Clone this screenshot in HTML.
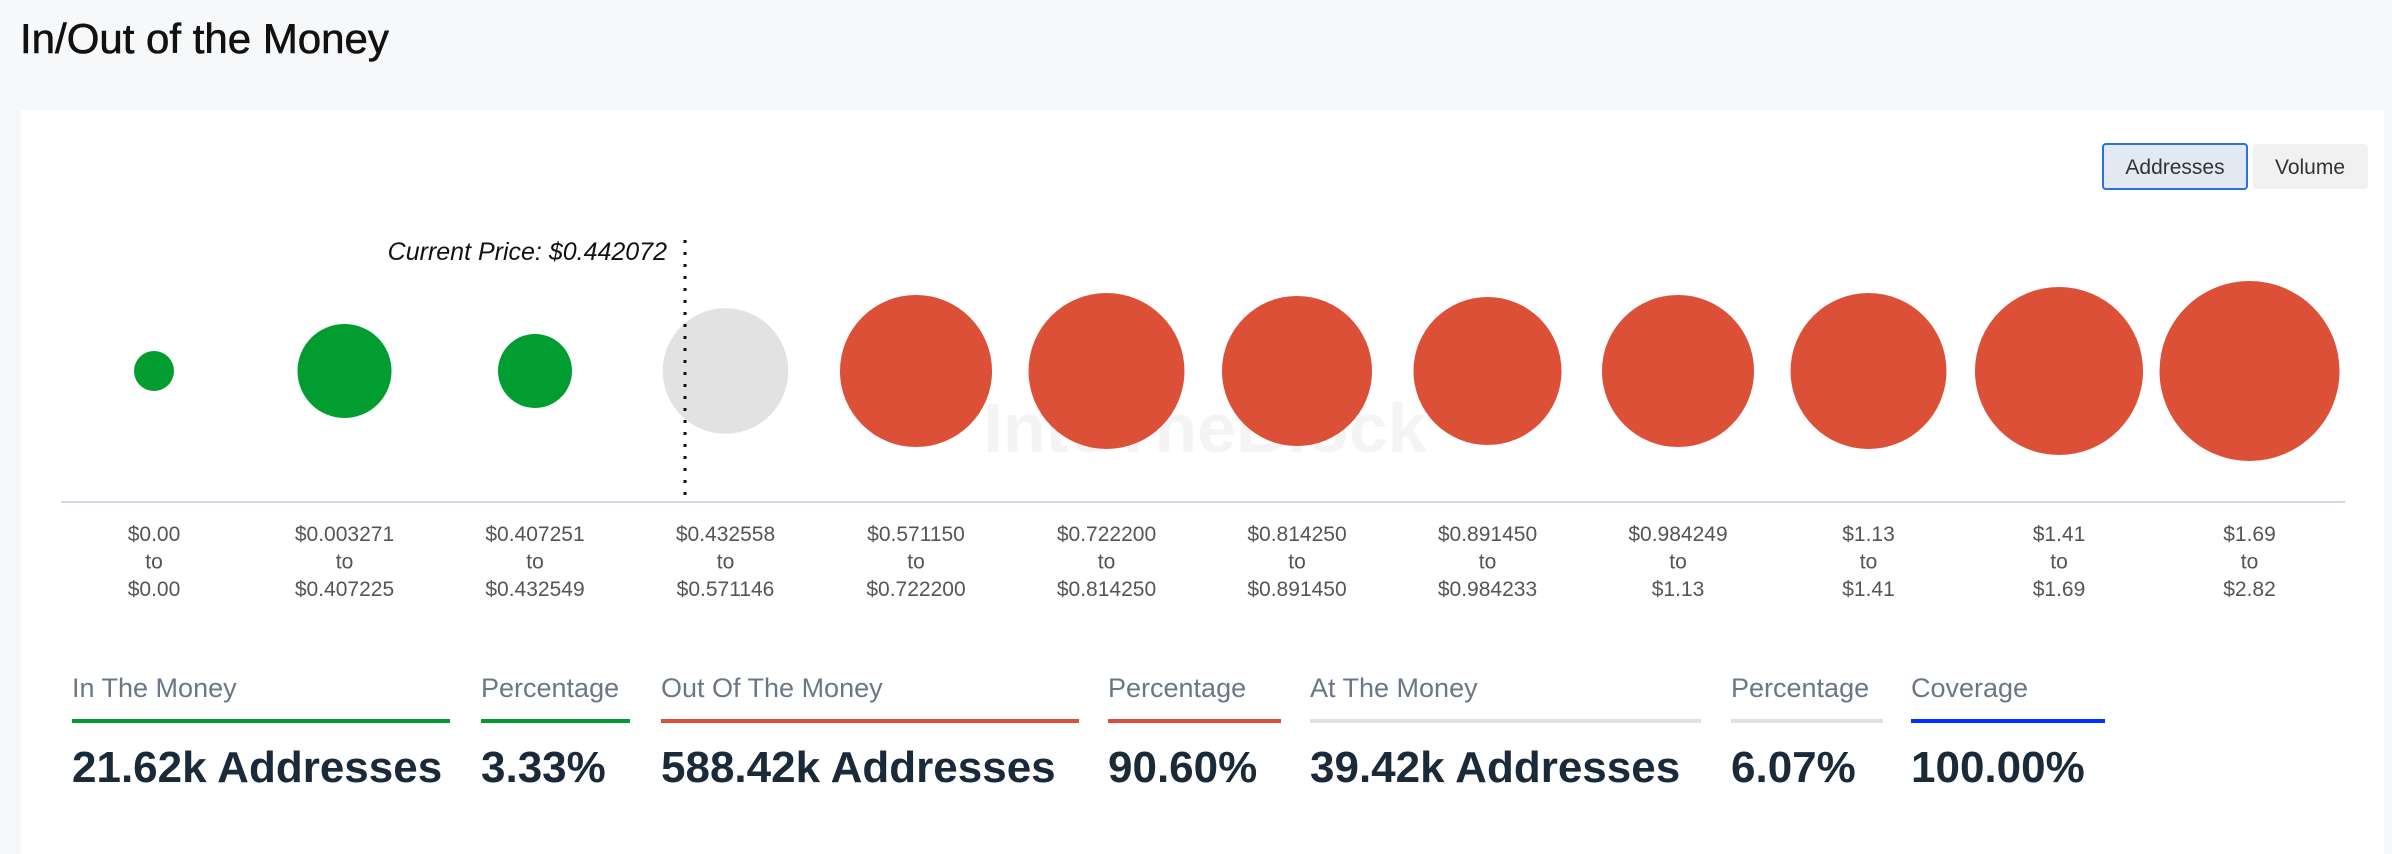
<!DOCTYPE html>
<html><head><meta charset="utf-8">
<style>
html,body{margin:0;padding:0;width:2392px;height:854px;overflow:hidden;background:#f7f8fa;font-family:"Liberation Sans",sans-serif;}
svg{position:absolute;left:0;top:0;}
</style></head>
<body>
<svg id="chart" width="2392" height="854" viewBox="0 0 2392 854">
  <text x="20" y="53" font-size="42" fill="#111" stroke="#111" stroke-width="0.6">In/Out of the Money</text>
  <rect x="21" y="110" width="2363" height="760" fill="#fff"/>
  <text x="1205" y="452" font-size="70" font-weight="bold" fill="#f4f4f4" text-anchor="middle">IntoTheBlock</text>
  <g>
    <rect x="2103" y="144" width="144" height="45" rx="3" fill="#e3e9f3" stroke="#2f6fe0" stroke-width="2"/>
    <text x="2175" y="174" font-size="21" fill="#333" text-anchor="middle">Addresses</text>
  </g>
  <g>
    <rect x="2253" y="144" width="115" height="45" rx="3" fill="#f1f1f2"/>
    <text x="2310" y="174" font-size="21" fill="#333" text-anchor="middle">Volume</text>
  </g>
  <line x1="61" y1="502" x2="2345" y2="502" stroke="#ccd6e6" stroke-width="2"/>
  <g id="bubbles"></g>
  <g id="labels"></g>
  <g id="stats"></g>
</svg>
<script>
const rangeFrom = ["$0.00","$0.003271","$0.407251","$0.432558","$0.571150","$0.722200","$0.814250","$0.891450","$0.984249","$1.13","$1.41","$1.69"];
const rangeTo = ["$0.00","$0.407225","$0.432549","$0.571146","$0.722200","$0.814250","$0.891450","$0.984233","$1.13","$1.41","$1.69","$2.82"];
const addressesK = [4.0, 22.1, 13.7, 39.4, 57.8, 60.8, 56.3, 54.8, 57.8, 60.8, 70.6, 81.0];
const status = ["in","in","in","at","out","out","out","out","out","out","out","out"];
const currentPrice = 0.442072;
const statLabels = ["In The Money","Percentage","Out Of The Money","Percentage","At The Money","Percentage","Coverage"];
const statValues = ["21.62k Addresses","3.33%","588.42k Addresses","90.60%","39.42k Addresses","6.07%","100.00%"];

const NS="http://www.w3.org/2000/svg";
const colors={in:"#029d31",out:"#dd5038",at:"#e2e2e2"};
const x0=154, step=190.5, cy=371, rMax=90;
const xPos=i=>x0+i*step;
const vMax=Math.max(...addressesK);
const rScale=v=>rMax*Math.sqrt(v/vMax);
function mk(tag,attrs,parent){const e=document.createElementNS(NS,tag);for(const k in attrs)e.setAttribute(k,attrs[k]);parent.appendChild(e);return e;}
const bg=document.getElementById('bubbles'), lg=document.getElementById('labels'), sg=document.getElementById('stats');
addressesK.forEach((v,i)=>{
  const c=mk('circle',{cx:xPos(i),cy:cy,r:rScale(v),fill:colors[status[i]]},bg);
  
  
  const t=mk('text',{x:xPos(i),'font-size':21,fill:'#555','text-anchor':'middle'},lg);
  
  
  [rangeFrom[i],'to',rangeTo[i]].forEach((s,j)=>{const ts=mk('tspan',{x:xPos(i),y:541+j*27.5},t);ts.textContent=s;});
});
const lineX=685;
const cl=mk('line',{x1:lineX,y1:240,x2:lineX,y2:502,stroke:'#111','stroke-width':3,'stroke-dasharray':'3,9'},bg);


const ct=mk('text',{x:lineX-18,y:260,'font-size':25,'font-style':'italic',fill:'#111','text-anchor':'end'},bg);
ct.textContent='Current Price: $'+currentPrice;


const cols=[[72,450],[481,630],[661,1079],[1108,1281],[1310,1701],[1731,1883],[1911,2105]];
const barColors=["#029d31","#029d31","#dd5038","#dd5038","#dfe0e0","#dfe0e0","#0033ff"];
statLabels.forEach((s,i)=>{
  const l=mk('text',{x:cols[i][0],y:697,'font-size':27,fill:'#6b7785'},sg);l.textContent=s;
  
  
  const b=mk('rect',{x:cols[i][0],y:719,width:cols[i][1]-cols[i][0],height:4,fill:barColors[i]},sg);
  
  
  const v=mk('text',{x:cols[i][0],y:782,'font-size':44,'font-weight':'bold',fill:'#1b2a38'},sg);v.textContent=statValues[i];
  
  
});
</script>
</body></html>
